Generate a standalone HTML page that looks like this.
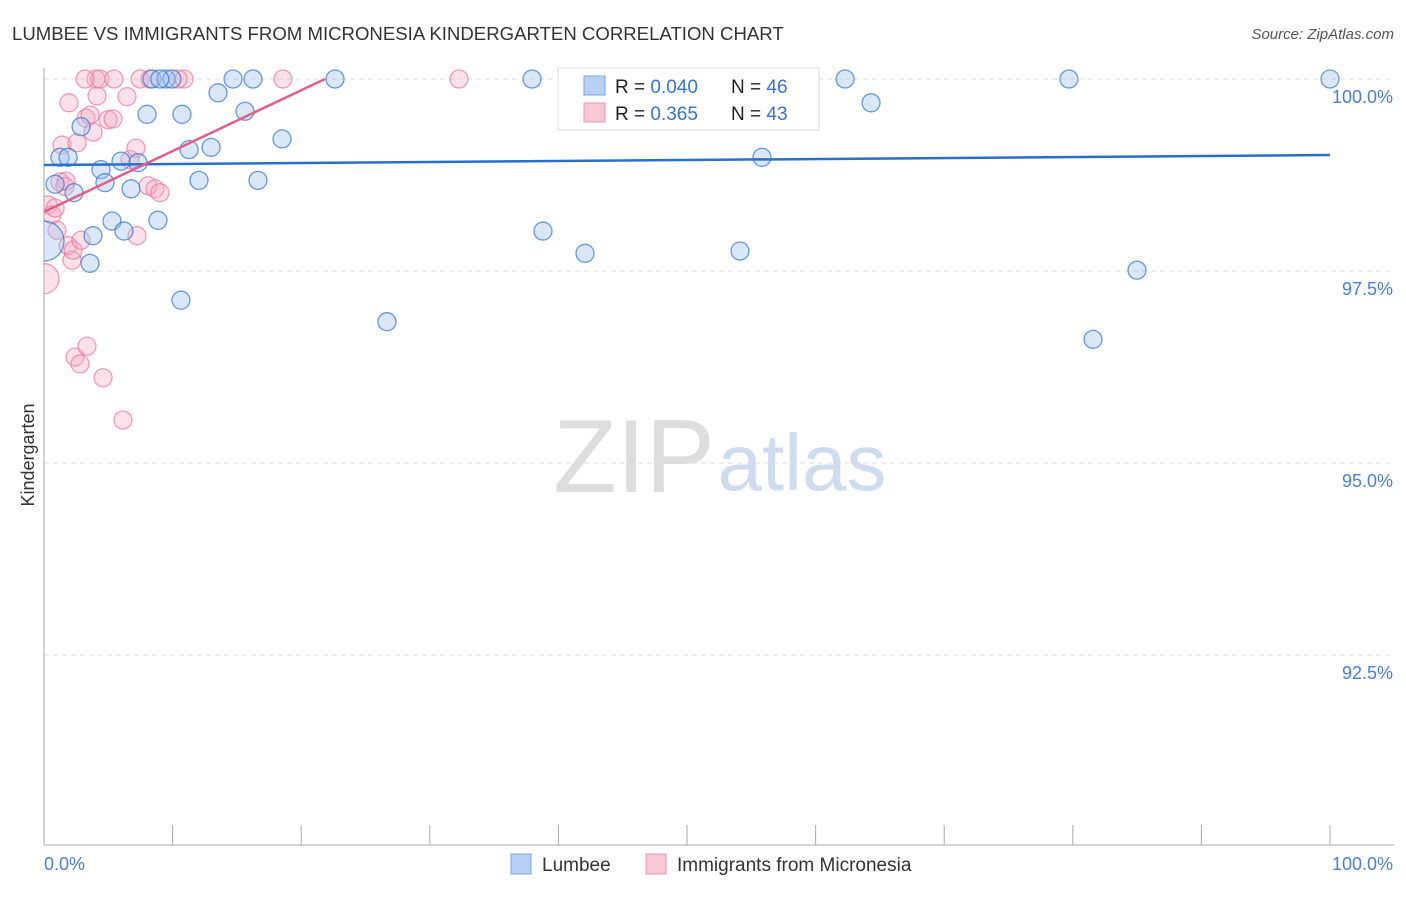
<!DOCTYPE html>
<html><head><meta charset="utf-8"><style>
body{margin:0;background:#fff;font-family:"Liberation Sans",sans-serif}
svg text{font-family:"Liberation Sans",sans-serif}
</style></head><body>
<svg width="1406" height="892" xmlns="http://www.w3.org/2000/svg">
<defs><clipPath id="plotclip"><rect x="44" y="0" width="1362" height="845"/></clipPath></defs>
<text x="12" y="40" font-size="18.6" fill="#333">LUMBEE VS IMMIGRANTS FROM MICRONESIA KINDERGARTEN CORRELATION CHART</text>
<text x="1394" y="39" font-size="15" fill="#555" font-style="italic" text-anchor="end">Source: ZipAtlas.com</text>
<text x="634" y="492" font-size="104" fill="#ddd" font-family="Liberation Serif" text-anchor="middle">ZIP</text>
<text x="802" y="490" font-size="80" fill="#cfdcf0" text-anchor="middle">atlas</text>
<g id="grid"></g><g id="axes"></g><g id="pts" clip-path="url(#plotclip)"></g><g id="trends"></g>
<text x="34" y="455" font-size="18" fill="#333" text-anchor="middle" transform="rotate(-90 34 455)">Kindergarten</text>
<text x="44" y="870" font-size="18" fill="#4a7fd4">0.0%</text>
<text x="1393" y="870" font-size="18" fill="#4a7fd4" text-anchor="end">100.0%</text>
<g>
<rect x="558" y="68" width="261" height="62" fill="#fff" stroke="#ddd"/>
<rect x="584" y="76" width="21" height="19" fill="#b8d0f4" stroke="#7aa3e0"/>
<text x="615" y="93" font-size="19" fill="#222">R = <tspan fill="#3a72d0">0.040</tspan></text>
<text x="731" y="93" font-size="19" fill="#222">N = <tspan fill="#3a72d0">46</tspan></text>
<rect x="584" y="103" width="21" height="19" fill="#f9c8d6" stroke="#e897ae"/>
<text x="615" y="120" font-size="19" fill="#222">R = <tspan fill="#3a72d0"> 0.365</tspan></text>
<text x="731" y="120" font-size="19" fill="#222">N = <tspan fill="#3a72d0">43</tspan></text>
</g>
<g>
<rect x="511" y="854" width="20" height="20" fill="#b8d0f4" stroke="#7aa3e0"/>
<text x="542" y="871" font-size="19" fill="#333">Lumbee</text>
<rect x="646" y="854" width="20" height="20" fill="#f9c8d6" stroke="#e897ae"/>
<text x="677" y="871" font-size="19" fill="#333">Immigrants from Micronesia</text>
</g>
</svg>
<script>
const yTicks=[100,97.5,95,92.5];
const yTickLabels=["100.0%","97.5%","95.0%","92.5%"];
const xTicks=[0,10,20,30,40,50,60,70,80,90,100];
const blueX=[0.86,1.24,1.87,2.33,2.88,3.58,3.81,4.43,4.74,5.29,5.99,6.22,6.77,7.31,8.01,8.4,8.86,9.49,9.95,10.65,10.73,11.28,12.05,12.99,13.53,14.7,15.63,16.25,16.64,18.51,22.63,26.67,37.95,38.8,42.07,48.68,54.12,55.83,62.29,64.31,79.7,81.57,84.99,100,0,9.0];
const blueY=[98.63,98.98,98.98,98.52,99.38,97.6,97.96,98.82,98.65,98.15,98.93,98.02,98.57,98.91,99.54,100,98.16,100,100,97.12,99.54,99.08,98.68,99.11,99.82,100,99.58,100,98.68,99.22,100,96.84,100,98.02,97.73,100,97.76,98.98,100,99.69,100,96.61,97.51,100,97.89,100];
const blueR=[9,9,9,9,9,9,9,9,9,9,9,9,9,9,9,9,9,9,9,9,9,9,9,9,9,9,9,9,9,9,9,9,9,9,9,9,9,9,9,9,9,9,9,9,20,9];
const pinkX=[0.31,0.62,0.86,1.01,1.24,1.4,1.71,1.94,1.87,2.18,2.26,2.41,2.57,2.8,2.88,3.34,3.27,3.58,3.81,4.12,4.04,4.35,4.59,4.98,5.37,5.44,6.14,6.45,6.69,7.15,7.23,7.47,8.09,8.63,9.02,10.89,18.58,32.27,0,1.63,3.19,10.42,8.24];
const pinkY=[98.36,98.23,98.32,98.03,98.66,99.14,98.67,99.69,97.83,97.64,97.77,96.38,99.17,96.29,97.9,96.52,99.49,99.53,99.31,99.78,100,100,96.11,99.47,99.48,100,95.56,99.77,98.95,99.1,97.96,100,98.61,98.57,98.52,100,100,100,97.4,98.6,100,100,100];
const pinkR=[9,9,9,9,9,9,9,9,9,9,9,9,9,9,9,9,9,9,9,9,9,9,9,9,9,9,9,9,9,9,9,9,9,9,9,9,9,9,15,9,9,9,9];
const blueTrend=[[0,98.88],[100,99.01]];
const pinkTrend=[[0,98.27],[21.85,100]];
const NS="http://www.w3.org/2000/svg";
const sx=v=>44+v*12.86;
const sy=v=>79+(100-v)*76.8;
function mk(tag,attrs,parent){const e=document.createElementNS(NS,tag);for(const k in attrs)e.setAttribute(k,attrs[k]);document.getElementById(parent).appendChild(e);return e;}
yTicks.forEach((t,i)=>{
 const l=mk('line',{x1:44,x2:1394,y1:sy(t),y2:sy(t),stroke:'#ddd','stroke-dasharray':'5,4'},'grid');
 
 
 const tx=mk('text',{x:1393,y:sy(t)+24,'font-size':18,fill:'#4a7fd4','text-anchor':'end'},'grid');
 tx.textContent=yTickLabels[i];
 
 
});
const ya=mk('line',{x1:44,x2:44,y1:68,y2:845,stroke:'#aaa'},'axes');


const xa=mk('line',{x1:44,x2:1394,y1:845,y2:845,stroke:'#aaa'},'axes');


xTicks.forEach(t=>{
 const l=mk('line',{x1:sx(t),x2:sx(t),y1:825,y2:845,stroke:'#aaa'},'axes');
 
 
});
function pts(X,Y,R,fill,stroke,name){
 X.forEach((x,i)=>{
  const c=mk('circle',{cx:sx(x),cy:sy(Y[i]),r:R[i],fill:fill,stroke:stroke,'stroke-width':1.3},'pts');
  
  
 });
}
pts(pinkX,pinkY,pinkR,'rgba(246,170,195,0.35)','rgba(232,120,155,0.7)','point-micronesia');
pts(blueX,blueY,blueR,'rgba(160,195,240,0.4)','rgba(60,120,210,0.75)','point-lumbee');
const bt=mk('line',{x1:sx(blueTrend[0][0]),y1:sy(blueTrend[0][1]),x2:sx(blueTrend[1][0]),y2:sy(blueTrend[1][1]),stroke:'#2a6fd0','stroke-width':2.5},'trends');


const pt=mk('line',{x1:sx(pinkTrend[0][0]),y1:sy(pinkTrend[0][1]),x2:sx(pinkTrend[1][0]),y2:sy(pinkTrend[1][1]),stroke:'#e0608a','stroke-width':2.5},'trends');


</script>
</body></html>
